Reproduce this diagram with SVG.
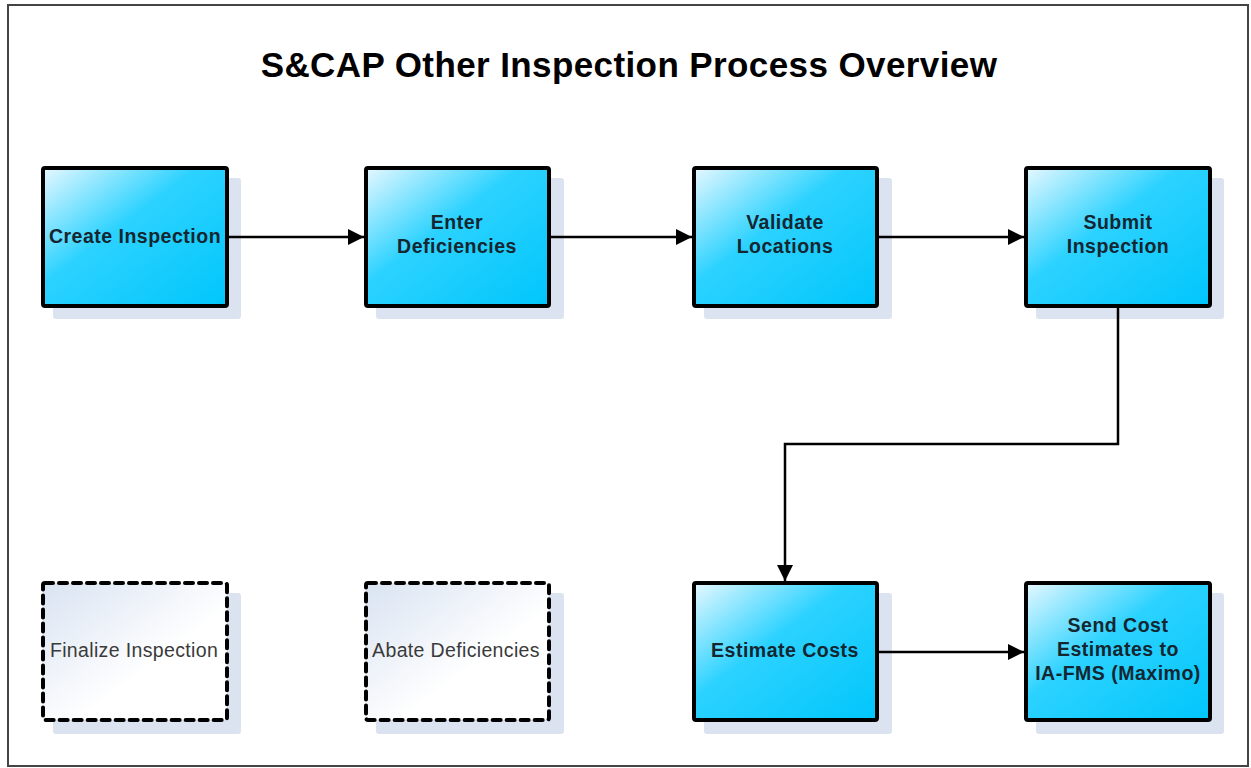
<svg xmlns="http://www.w3.org/2000/svg" width="1251" height="768" viewBox="0 0 1251 768">
<defs>
<linearGradient id="blue" x1="0" y1="0" x2="1" y2="1">
<stop offset="0" stop-color="#e6f8ff"/>
<stop offset="0.42" stop-color="#2cd2ff"/>
<stop offset="1" stop-color="#00c6fb"/>
</linearGradient>
<linearGradient id="pale" x1="0" y1="0" x2="1" y2="1">
<stop offset="0" stop-color="#d9e3f2"/>
<stop offset="0.6" stop-color="#ffffff"/>
<stop offset="1" stop-color="#ffffff"/>
</linearGradient>
<marker id="arr" viewBox="0 0 10 10" refX="10" refY="5" markerWidth="20" markerHeight="16" markerUnits="userSpaceOnUse" orient="auto">
<path d="M0,0 L10,5 L0,10 z" fill="#000"/>
</marker>
</defs>
<style>
.shadow{fill:#dbe2f0}
.box{fill:url(#blue);stroke:#000;stroke-width:4}
.dbox{fill:url(#pale);stroke:#000;stroke-width:4;stroke-dasharray:8 6;stroke-linecap:round}
.t{font-family:"Liberation Sans",Arial,sans-serif;font-size:19.5px;letter-spacing:0.5px;font-weight:bold;fill:#142630;text-anchor:middle}
.dt{font-family:"Liberation Sans",Arial,sans-serif;font-size:19.5px;letter-spacing:0.35px;fill:#3a3a3a;text-anchor:middle}
.c{fill:none;stroke:#000;stroke-width:2.5}
</style>
<rect x="0" y="0" width="1251" height="768" fill="#fff"/>
<rect x="8" y="5" width="1240" height="761" fill="none" stroke="#444" stroke-width="2"/>
<text x="629" y="77" font-family="Liberation Sans, Arial, sans-serif" font-size="35" letter-spacing="0.4" font-weight="bold" text-anchor="middle" fill="#000">S&amp;CAP Other Inspection Process Overview</text>
<g id="create">
<rect class="shadow" x="53" y="178" width="188" height="141" rx="3"/>
<rect class="box" x="43" y="168" width="184" height="138" rx="2"/>
<text class="t" x="135" y="243">Create Inspection</text>
</g>
<g id="enter">
<rect class="shadow" x="376" y="178" width="188" height="141" rx="3"/>
<rect class="box" x="366" y="168" width="183" height="138" rx="2"/>
<text class="t" x="457" y="229">Enter</text>
<text class="t" x="457" y="253">Deficiencies</text>
</g>
<g id="validate">
<rect class="shadow" x="704" y="178" width="188" height="141" rx="3"/>
<rect class="box" x="694" y="168" width="183" height="138" rx="2"/>
<text class="t" x="785" y="229">Validate</text>
<text class="t" x="785" y="253">Locations</text>
</g>
<g id="submit">
<rect class="shadow" x="1036" y="178" width="188" height="141" rx="3"/>
<rect class="box" x="1026" y="168" width="184" height="138" rx="2"/>
<text class="t" x="1118" y="229">Submit</text>
<text class="t" x="1118" y="253">Inspection</text>
</g>
<g id="finalize">
<rect class="shadow" x="53" y="593" width="188" height="141" rx="3"/>
<rect class="dbox" x="43" y="583" width="184" height="137" rx="2"/>
<text class="dt" x="134" y="657">Finalize Inspection</text>
</g>
<g id="abate">
<rect class="shadow" x="376" y="593" width="188" height="141" rx="3"/>
<rect class="dbox" x="366" y="583" width="183" height="137" rx="2"/>
<text class="dt" x="456" y="657">Abate Deficiencies</text>
</g>
<g id="estimate">
<rect class="shadow" x="704" y="593" width="188" height="141" rx="3"/>
<rect class="box" x="694" y="583" width="183" height="137" rx="2"/>
<text class="t" x="785" y="657">Estimate Costs</text>
</g>
<g id="send">
<rect class="shadow" x="1036" y="593" width="188" height="141" rx="3"/>
<rect class="box" x="1026" y="583" width="184" height="137" rx="2"/>
<text class="t" x="1118" y="632">Send Cost</text>
<text class="t" x="1118" y="656">Estimates to</text>
<text class="t" x="1118" y="680">IA-FMS (Maximo)</text>
</g>
<g id="connectors">
<line class="c" x1="229" y1="237" x2="364" y2="237" marker-end="url(#arr)"/>
<line class="c" x1="551" y1="237" x2="692" y2="237" marker-end="url(#arr)"/>
<line class="c" x1="879" y1="237" x2="1024" y2="237" marker-end="url(#arr)"/>
<polyline class="c" points="1118,308 1118,444 785,444 785,581" marker-end="url(#arr)"/>
<line class="c" x1="879" y1="652" x2="1024" y2="652" marker-end="url(#arr)"/>
</g>
</svg>
